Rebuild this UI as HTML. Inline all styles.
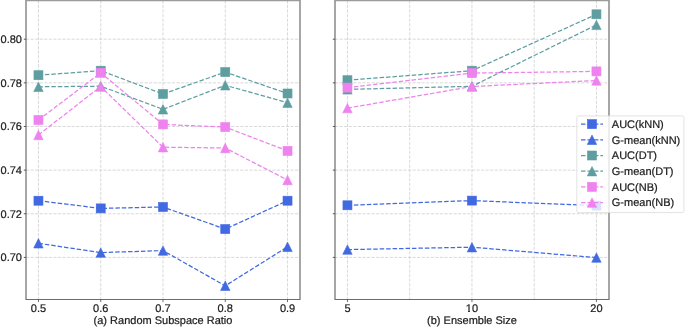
<!DOCTYPE html>
<html><head><meta charset="utf-8"><style>
html,body{margin:0;padding:0;background:#fff;}
body{width:685px;height:327px;overflow:hidden;}
svg{display:block;position:absolute;left:0;top:0;}
.ov{will-change:transform;}
text{font-family:"Liberation Sans",sans-serif;font-size:11px;fill:#1c1c1c;stroke:#1c1c1c;stroke-width:0.22px;text-rendering:geometricPrecision;}
</style></head><body>
<svg width="685" height="327" viewBox="0 0 685 327">
<rect width="685" height="327" fill="#fff"/>
<line x1="38.45" y1="300.0" x2="38.45" y2="0.3" stroke="#cfcfcf" stroke-width="0.8" stroke-dasharray="3.18 1.38"/>
<line x1="100.72" y1="300.0" x2="100.72" y2="0.3" stroke="#cfcfcf" stroke-width="0.8" stroke-dasharray="3.18 1.38"/>
<line x1="162.99" y1="300.0" x2="162.99" y2="0.3" stroke="#cfcfcf" stroke-width="0.8" stroke-dasharray="3.18 1.38"/>
<line x1="225.26" y1="300.0" x2="225.26" y2="0.3" stroke="#cfcfcf" stroke-width="0.8" stroke-dasharray="3.18 1.38"/>
<line x1="287.53" y1="300.0" x2="287.53" y2="0.3" stroke="#cfcfcf" stroke-width="0.8" stroke-dasharray="3.18 1.38"/>
<line x1="26.0" y1="257.40" x2="300.0" y2="257.40" stroke="#cfcfcf" stroke-width="0.8" stroke-dasharray="3.18 1.38"/>
<line x1="26.0" y1="213.76" x2="300.0" y2="213.76" stroke="#cfcfcf" stroke-width="0.8" stroke-dasharray="3.18 1.38"/>
<line x1="26.0" y1="170.12" x2="300.0" y2="170.12" stroke="#cfcfcf" stroke-width="0.8" stroke-dasharray="3.18 1.38"/>
<line x1="26.0" y1="126.48" x2="300.0" y2="126.48" stroke="#cfcfcf" stroke-width="0.8" stroke-dasharray="3.18 1.38"/>
<line x1="26.0" y1="82.84" x2="300.0" y2="82.84" stroke="#cfcfcf" stroke-width="0.8" stroke-dasharray="3.18 1.38"/>
<line x1="26.0" y1="39.20" x2="300.0" y2="39.20" stroke="#cfcfcf" stroke-width="0.8" stroke-dasharray="3.18 1.38"/>
<polyline points="38.45,200.70 100.72,208.40 162.99,207.00 225.26,229.10 287.53,200.70" fill="none" stroke="#4169e1" stroke-width="1.25" stroke-dasharray="4.50 1.95"/>
<rect x="33.95" y="196.20" width="9.0" height="9.0" fill="#4169e1" stroke="#4169e1" stroke-width="0.6"/>
<rect x="96.22" y="203.90" width="9.0" height="9.0" fill="#4169e1" stroke="#4169e1" stroke-width="0.6"/>
<rect x="158.49" y="202.50" width="9.0" height="9.0" fill="#4169e1" stroke="#4169e1" stroke-width="0.6"/>
<rect x="220.76" y="224.60" width="9.0" height="9.0" fill="#4169e1" stroke="#4169e1" stroke-width="0.6"/>
<rect x="283.03" y="196.20" width="9.0" height="9.0" fill="#4169e1" stroke="#4169e1" stroke-width="0.6"/>
<polyline points="38.45,243.30 100.72,252.60 162.99,250.60 225.26,285.80 287.53,246.80" fill="none" stroke="#4169e1" stroke-width="1.25" stroke-dasharray="4.50 1.95"/>
<path d="M38.45,238.60L43.15,248.00L33.75,248.00Z" fill="#4169e1" stroke="#4169e1" stroke-width="0.6" stroke-linejoin="miter"/>
<path d="M100.72,247.90L105.42,257.30L96.02,257.30Z" fill="#4169e1" stroke="#4169e1" stroke-width="0.6" stroke-linejoin="miter"/>
<path d="M162.99,245.90L167.69,255.30L158.29,255.30Z" fill="#4169e1" stroke="#4169e1" stroke-width="0.6" stroke-linejoin="miter"/>
<path d="M225.26,281.10L229.96,290.50L220.56,290.50Z" fill="#4169e1" stroke="#4169e1" stroke-width="0.6" stroke-linejoin="miter"/>
<path d="M287.53,242.10L292.23,251.50L282.83,251.50Z" fill="#4169e1" stroke="#4169e1" stroke-width="0.6" stroke-linejoin="miter"/>
<polyline points="38.45,75.20 100.72,70.70 162.99,94.00 225.26,72.10 287.53,93.50" fill="none" stroke="#5f9ea0" stroke-width="1.25" stroke-dasharray="4.50 1.95"/>
<rect x="33.95" y="70.70" width="9.0" height="9.0" fill="#5f9ea0" stroke="#5f9ea0" stroke-width="0.6"/>
<rect x="96.22" y="66.20" width="9.0" height="9.0" fill="#5f9ea0" stroke="#5f9ea0" stroke-width="0.6"/>
<rect x="158.49" y="89.50" width="9.0" height="9.0" fill="#5f9ea0" stroke="#5f9ea0" stroke-width="0.6"/>
<rect x="220.76" y="67.60" width="9.0" height="9.0" fill="#5f9ea0" stroke="#5f9ea0" stroke-width="0.6"/>
<rect x="283.03" y="89.00" width="9.0" height="9.0" fill="#5f9ea0" stroke="#5f9ea0" stroke-width="0.6"/>
<polyline points="38.45,86.80 100.72,86.20 162.99,109.30 225.26,85.30 287.53,102.70" fill="none" stroke="#5f9ea0" stroke-width="1.25" stroke-dasharray="4.50 1.95"/>
<path d="M38.45,82.10L43.15,91.50L33.75,91.50Z" fill="#5f9ea0" stroke="#5f9ea0" stroke-width="0.6" stroke-linejoin="miter"/>
<path d="M100.72,81.50L105.42,90.90L96.02,90.90Z" fill="#5f9ea0" stroke="#5f9ea0" stroke-width="0.6" stroke-linejoin="miter"/>
<path d="M162.99,104.60L167.69,114.00L158.29,114.00Z" fill="#5f9ea0" stroke="#5f9ea0" stroke-width="0.6" stroke-linejoin="miter"/>
<path d="M225.26,80.60L229.96,90.00L220.56,90.00Z" fill="#5f9ea0" stroke="#5f9ea0" stroke-width="0.6" stroke-linejoin="miter"/>
<path d="M287.53,98.00L292.23,107.40L282.83,107.40Z" fill="#5f9ea0" stroke="#5f9ea0" stroke-width="0.6" stroke-linejoin="miter"/>
<polyline points="38.45,120.00 100.72,72.80 162.99,124.40 225.26,127.10 287.53,150.90" fill="none" stroke="#ee82ee" stroke-width="1.25" stroke-dasharray="4.50 1.95"/>
<rect x="33.95" y="115.50" width="9.0" height="9.0" fill="#ee82ee" stroke="#ee82ee" stroke-width="0.6"/>
<rect x="96.22" y="68.30" width="9.0" height="9.0" fill="#ee82ee" stroke="#ee82ee" stroke-width="0.6"/>
<rect x="158.49" y="119.90" width="9.0" height="9.0" fill="#ee82ee" stroke="#ee82ee" stroke-width="0.6"/>
<rect x="220.76" y="122.60" width="9.0" height="9.0" fill="#ee82ee" stroke="#ee82ee" stroke-width="0.6"/>
<rect x="283.03" y="146.40" width="9.0" height="9.0" fill="#ee82ee" stroke="#ee82ee" stroke-width="0.6"/>
<polyline points="38.45,135.00 100.72,86.50 162.99,147.20 225.26,148.00 287.53,180.00" fill="none" stroke="#ee82ee" stroke-width="1.25" stroke-dasharray="4.50 1.95"/>
<path d="M38.45,130.30L43.15,139.70L33.75,139.70Z" fill="#ee82ee" stroke="#ee82ee" stroke-width="0.6" stroke-linejoin="miter"/>
<path d="M100.72,81.80L105.42,91.20L96.02,91.20Z" fill="#ee82ee" stroke="#ee82ee" stroke-width="0.6" stroke-linejoin="miter"/>
<path d="M162.99,142.50L167.69,151.90L158.29,151.90Z" fill="#ee82ee" stroke="#ee82ee" stroke-width="0.6" stroke-linejoin="miter"/>
<path d="M225.26,143.30L229.96,152.70L220.56,152.70Z" fill="#ee82ee" stroke="#ee82ee" stroke-width="0.6" stroke-linejoin="miter"/>
<path d="M287.53,175.30L292.23,184.70L282.83,184.70Z" fill="#ee82ee" stroke="#ee82ee" stroke-width="0.6" stroke-linejoin="miter"/>
<path d="M26.0,299.5V0.3M300.0,299.5V0.3M25.4,299.5H300.6" fill="none" stroke="#6c6c6c" stroke-width="1.2"/>
<line x1="25.4" y1="0.65" x2="300.6" y2="0.65" stroke="#9a9a9a" stroke-width="1.3"/>
<line x1="23.8" y1="257.40" x2="26.0" y2="257.40" stroke="#484848" stroke-width="0.9"/>
<line x1="23.8" y1="213.76" x2="26.0" y2="213.76" stroke="#484848" stroke-width="0.9"/>
<line x1="23.8" y1="170.12" x2="26.0" y2="170.12" stroke="#484848" stroke-width="0.9"/>
<line x1="23.8" y1="126.48" x2="26.0" y2="126.48" stroke="#484848" stroke-width="0.9"/>
<line x1="23.8" y1="82.84" x2="26.0" y2="82.84" stroke="#484848" stroke-width="0.9"/>
<line x1="23.8" y1="39.20" x2="26.0" y2="39.20" stroke="#484848" stroke-width="0.9"/>
<line x1="38.45" y1="299.5" x2="38.45" y2="302.1" stroke="#484848" stroke-width="0.8"/>
<line x1="100.72" y1="299.5" x2="100.72" y2="302.1" stroke="#484848" stroke-width="0.8"/>
<line x1="162.99" y1="299.5" x2="162.99" y2="302.1" stroke="#484848" stroke-width="0.8"/>
<line x1="225.26" y1="299.5" x2="225.26" y2="302.1" stroke="#484848" stroke-width="0.8"/>
<line x1="287.53" y1="299.5" x2="287.53" y2="302.1" stroke="#484848" stroke-width="0.8"/>
<line x1="347.45" y1="300.0" x2="347.45" y2="0.3" stroke="#cfcfcf" stroke-width="0.8" stroke-dasharray="3.18 1.38"/>
<line x1="409.70" y1="300.0" x2="409.70" y2="0.3" stroke="#cfcfcf" stroke-width="0.8" stroke-dasharray="3.18 1.38"/>
<line x1="471.95" y1="300.0" x2="471.95" y2="0.3" stroke="#cfcfcf" stroke-width="0.8" stroke-dasharray="3.18 1.38"/>
<line x1="534.20" y1="300.0" x2="534.20" y2="0.3" stroke="#cfcfcf" stroke-width="0.8" stroke-dasharray="3.18 1.38"/>
<line x1="596.45" y1="300.0" x2="596.45" y2="0.3" stroke="#cfcfcf" stroke-width="0.8" stroke-dasharray="3.18 1.38"/>
<line x1="335.0" y1="257.40" x2="609.0" y2="257.40" stroke="#cfcfcf" stroke-width="0.8" stroke-dasharray="3.18 1.38"/>
<line x1="335.0" y1="213.76" x2="609.0" y2="213.76" stroke="#cfcfcf" stroke-width="0.8" stroke-dasharray="3.18 1.38"/>
<line x1="335.0" y1="170.12" x2="609.0" y2="170.12" stroke="#cfcfcf" stroke-width="0.8" stroke-dasharray="3.18 1.38"/>
<line x1="335.0" y1="126.48" x2="609.0" y2="126.48" stroke="#cfcfcf" stroke-width="0.8" stroke-dasharray="3.18 1.38"/>
<line x1="335.0" y1="82.84" x2="609.0" y2="82.84" stroke="#cfcfcf" stroke-width="0.8" stroke-dasharray="3.18 1.38"/>
<line x1="335.0" y1="39.20" x2="609.0" y2="39.20" stroke="#cfcfcf" stroke-width="0.8" stroke-dasharray="3.18 1.38"/>
<polyline points="347.45,205.30 471.95,200.60 596.45,205.60" fill="none" stroke="#4169e1" stroke-width="1.25" stroke-dasharray="4.50 1.95"/>
<rect x="342.95" y="200.80" width="9.0" height="9.0" fill="#4169e1" stroke="#4169e1" stroke-width="0.6"/>
<rect x="467.45" y="196.10" width="9.0" height="9.0" fill="#4169e1" stroke="#4169e1" stroke-width="0.6"/>
<rect x="591.95" y="201.10" width="9.0" height="9.0" fill="#4169e1" stroke="#4169e1" stroke-width="0.6"/>
<polyline points="347.45,249.60 471.95,247.20 596.45,257.60" fill="none" stroke="#4169e1" stroke-width="1.25" stroke-dasharray="4.50 1.95"/>
<path d="M347.45,244.90L352.15,254.30L342.75,254.30Z" fill="#4169e1" stroke="#4169e1" stroke-width="0.6" stroke-linejoin="miter"/>
<path d="M471.95,242.50L476.65,251.90L467.25,251.90Z" fill="#4169e1" stroke="#4169e1" stroke-width="0.6" stroke-linejoin="miter"/>
<path d="M596.45,252.90L601.15,262.30L591.75,262.30Z" fill="#4169e1" stroke="#4169e1" stroke-width="0.6" stroke-linejoin="miter"/>
<polyline points="347.45,80.20 471.95,70.70 596.45,14.30" fill="none" stroke="#5f9ea0" stroke-width="1.25" stroke-dasharray="4.50 1.95"/>
<rect x="342.95" y="75.70" width="9.0" height="9.0" fill="#5f9ea0" stroke="#5f9ea0" stroke-width="0.6"/>
<rect x="467.45" y="66.20" width="9.0" height="9.0" fill="#5f9ea0" stroke="#5f9ea0" stroke-width="0.6"/>
<rect x="591.95" y="9.80" width="9.0" height="9.0" fill="#5f9ea0" stroke="#5f9ea0" stroke-width="0.6"/>
<polyline points="347.45,89.40 471.95,86.30 596.45,24.90" fill="none" stroke="#5f9ea0" stroke-width="1.25" stroke-dasharray="4.50 1.95"/>
<path d="M347.45,84.70L352.15,94.10L342.75,94.10Z" fill="#5f9ea0" stroke="#5f9ea0" stroke-width="0.6" stroke-linejoin="miter"/>
<path d="M471.95,81.60L476.65,91.00L467.25,91.00Z" fill="#5f9ea0" stroke="#5f9ea0" stroke-width="0.6" stroke-linejoin="miter"/>
<path d="M596.45,20.20L601.15,29.60L591.75,29.60Z" fill="#5f9ea0" stroke="#5f9ea0" stroke-width="0.6" stroke-linejoin="miter"/>
<polyline points="347.45,87.60 471.95,73.10 596.45,71.40" fill="none" stroke="#ee82ee" stroke-width="1.25" stroke-dasharray="4.50 1.95"/>
<rect x="342.95" y="83.10" width="9.0" height="9.0" fill="#ee82ee" stroke="#ee82ee" stroke-width="0.6"/>
<rect x="467.45" y="68.60" width="9.0" height="9.0" fill="#ee82ee" stroke="#ee82ee" stroke-width="0.6"/>
<rect x="591.95" y="66.90" width="9.0" height="9.0" fill="#ee82ee" stroke="#ee82ee" stroke-width="0.6"/>
<polyline points="347.45,108.10 471.95,86.50 596.45,80.50" fill="none" stroke="#ee82ee" stroke-width="1.25" stroke-dasharray="4.50 1.95"/>
<path d="M347.45,103.40L352.15,112.80L342.75,112.80Z" fill="#ee82ee" stroke="#ee82ee" stroke-width="0.6" stroke-linejoin="miter"/>
<path d="M471.95,81.80L476.65,91.20L467.25,91.20Z" fill="#ee82ee" stroke="#ee82ee" stroke-width="0.6" stroke-linejoin="miter"/>
<path d="M596.45,75.80L601.15,85.20L591.75,85.20Z" fill="#ee82ee" stroke="#ee82ee" stroke-width="0.6" stroke-linejoin="miter"/>
<path d="M335.0,299.5V0.3M609.0,299.5V0.3M334.4,299.5H609.6" fill="none" stroke="#6c6c6c" stroke-width="1.2"/>
<line x1="334.4" y1="0.65" x2="609.6" y2="0.65" stroke="#9a9a9a" stroke-width="1.3"/>
<line x1="332.8" y1="257.40" x2="335.0" y2="257.40" stroke="#484848" stroke-width="0.9"/>
<line x1="332.8" y1="213.76" x2="335.0" y2="213.76" stroke="#484848" stroke-width="0.9"/>
<line x1="332.8" y1="170.12" x2="335.0" y2="170.12" stroke="#484848" stroke-width="0.9"/>
<line x1="332.8" y1="126.48" x2="335.0" y2="126.48" stroke="#484848" stroke-width="0.9"/>
<line x1="332.8" y1="82.84" x2="335.0" y2="82.84" stroke="#484848" stroke-width="0.9"/>
<line x1="332.8" y1="39.20" x2="335.0" y2="39.20" stroke="#484848" stroke-width="0.9"/>
<line x1="347.45" y1="299.5" x2="347.45" y2="302.1" stroke="#484848" stroke-width="0.8"/>
<line x1="471.95" y1="299.5" x2="471.95" y2="302.1" stroke="#484848" stroke-width="0.8"/>
<line x1="596.45" y1="299.5" x2="596.45" y2="302.1" stroke="#484848" stroke-width="0.8"/>
<rect x="576.8" y="115.9" width="107.10000000000002" height="96.69999999999999" rx="1.8" ry="1.8" fill="#ffffff" fill-opacity="0.8" stroke="#dadada" stroke-width="0.8"/>
<line x1="581" y1="124.10" x2="603" y2="124.10" stroke="#4169e1" stroke-width="1.25" stroke-dasharray="4.50 1.95"/>
<rect x="587.50" y="119.60" width="9.0" height="9.0" fill="#4169e1" stroke="#4169e1" stroke-width="0.6"/>
<line x1="581" y1="139.80" x2="603" y2="139.80" stroke="#4169e1" stroke-width="1.25" stroke-dasharray="4.50 1.95"/>
<path d="M592.00,135.10L596.70,144.50L587.30,144.50Z" fill="#4169e1" stroke="#4169e1" stroke-width="0.6" stroke-linejoin="miter"/>
<line x1="581" y1="155.50" x2="603" y2="155.50" stroke="#5f9ea0" stroke-width="1.25" stroke-dasharray="4.50 1.95"/>
<rect x="587.50" y="151.00" width="9.0" height="9.0" fill="#5f9ea0" stroke="#5f9ea0" stroke-width="0.6"/>
<line x1="581" y1="171.20" x2="603" y2="171.20" stroke="#5f9ea0" stroke-width="1.25" stroke-dasharray="4.50 1.95"/>
<path d="M592.00,166.50L596.70,175.90L587.30,175.90Z" fill="#5f9ea0" stroke="#5f9ea0" stroke-width="0.6" stroke-linejoin="miter"/>
<line x1="581" y1="186.90" x2="603" y2="186.90" stroke="#ee82ee" stroke-width="1.25" stroke-dasharray="4.50 1.95"/>
<rect x="587.50" y="182.40" width="9.0" height="9.0" fill="#ee82ee" stroke="#ee82ee" stroke-width="0.6"/>
<line x1="581" y1="202.60" x2="603" y2="202.60" stroke="#ee82ee" stroke-width="1.25" stroke-dasharray="4.50 1.95"/>
<path d="M592.00,197.90L596.70,207.30L587.30,207.30Z" fill="#ee82ee" stroke="#ee82ee" stroke-width="0.6" stroke-linejoin="miter"/>
</svg>
<svg class="ov" width="685" height="327" viewBox="0 0 685 327">
<text x="22.0" y="261.35" text-anchor="end">0.70</text>
<text x="22.0" y="217.71" text-anchor="end">0.72</text>
<text x="22.0" y="174.07" text-anchor="end">0.74</text>
<text x="22.0" y="130.43" text-anchor="end">0.76</text>
<text x="22.0" y="86.79" text-anchor="end">0.78</text>
<text x="22.0" y="43.15" text-anchor="end">0.80</text>
<text x="38.45" y="312" text-anchor="middle">0.5</text>
<text x="100.72" y="312" text-anchor="middle">0.6</text>
<text x="162.99" y="312" text-anchor="middle">0.7</text>
<text x="225.26" y="312" text-anchor="middle">0.8</text>
<text x="287.53" y="312" text-anchor="middle">0.9</text>
<text x="163.00" y="324.4" text-anchor="middle">(a) Random Subspace Ratio</text>
<text x="347.45" y="312" text-anchor="middle">5</text>
<text x="471.95" y="312" text-anchor="middle">10</text>
<text x="596.45" y="312" text-anchor="middle">20</text>
<text x="472.00" y="324.4" text-anchor="middle">(b) Ensemble Size</text>
<text x="611.8" y="127.80">AUC(kNN)</text>
<text x="611.8" y="143.50">G-mean(kNN)</text>
<text x="611.8" y="159.20">AUC(DT)</text>
<text x="611.8" y="174.90">G-mean(DT)</text>
<text x="611.8" y="190.60">AUC(NB)</text>
<text x="611.8" y="206.30">G-mean(NB)</text>
<rect x="465.9" y="310.95" width="2.1" height="1.1" fill="#fff"/>
<rect x="470.0" y="310.95" width="1.95" height="1.1" fill="#fff"/>
</svg>
</body></html>
